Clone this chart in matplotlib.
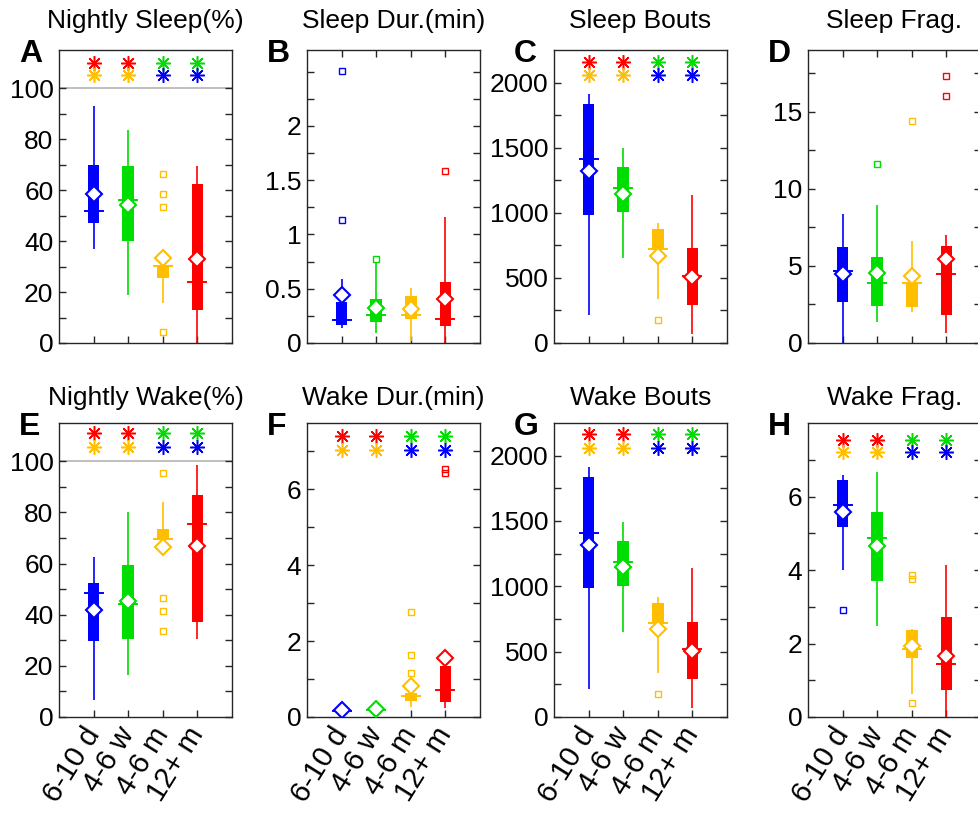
import matplotlib
matplotlib.use('Agg')
import matplotlib.pyplot as plt
from matplotlib.ticker import FixedLocator

plt.rcParams['font.family'] = ['Liberation Sans', 'DejaVu Sans']

groups = ['6-10 d', '4-6 w', '4-6 m', '12+ m']
colors = ['#0000FF', '#00DD00', '#FFBF00', '#FF0000']
sig_top_colors = ['#FF0000', '#FF0000', '#00DD00', '#00DD00']
sig_bot_colors = ['#FFBF00', '#FFBF00', '#0000FF', '#0000FF']

# ---------------- Panel A: Nightly Sleep(%)
A_lo = [36.8, 18.9, 15.6, 0.0]
A_q1 = [47.2, 40.2, 25.7, 12.8]
A_med = [51.8, 56.1, 30.2, 24.1]
A_q3 = [70.0, 69.5, 30.6, 62.3]
A_hi = [93.2, 83.7, 36.0, 69.4]
A_mean = [58.3, 54.2, 33.2, 33.0]
A_out = [[], [], [66.2, 58.4, 53.5, 4.2], []]
A_sig = [110, 105]

# ---------------- Panel B: Sleep Dur.(min)
B_lo = [0.14, 0.09, 0.015, 0.0]
B_q1 = [0.17, 0.19, 0.22, 0.16]
B_med = [0.215, 0.26, 0.26, 0.22]
B_q3 = [0.38, 0.41, 0.43, 0.56]
B_hi = [0.59, 0.75, 0.51, 1.16]
B_mean = [0.445, 0.32, 0.31, 0.41]
B_out = [[2.51, 1.13], [0.776], [], [1.586]]

# ---------------- Panel C: Sleep Bouts
C_lo = [217, 652, 340, 72]
C_q1 = [985, 1003, 721, 294]
C_med = [1412, 1189, 721, 517]
C_q3 = [1834, 1350, 875, 729]
C_hi = [1913, 1496, 921, 1138]
C_mean = [1317, 1146, 670, 506]
C_out = [[], [], [174], []]
C_sig = [2160, 2058]

# ---------------- Panel D: Sleep Frag.
D_lo = [0.0, 1.33, 1.98, 0.65]
D_q1 = [2.65, 2.41, 2.32, 1.83]
D_med = [4.69, 3.92, 3.92, 4.48]
D_q3 = [6.24, 5.60, 3.92, 6.31]
D_hi = [8.35, 8.93, 6.63, 7.0]
D_mean = [4.48, 4.52, 4.35, 5.42]
D_out = [[], [11.58], [14.38], [17.33, 15.99]]

# ---------------- Panel E: Nightly Wake(%)
E_lo = [6.5, 16.4, 64.0, 30.4]
E_q1 = [29.8, 30.6, 69.2, 37.3]
E_med = [48.4, 44.2, 69.7, 75.4]
E_q3 = [52.5, 59.4, 73.7, 86.7]
E_hi = [62.7, 80.2, 84.1, 98.4]
E_mean = [41.9, 45.5, 66.6, 67.0]
E_out = [[], [], [95.6, 46.4, 41.6, 33.8], []]
E_sig = [111, 105.8]

# ---------------- Panel F: Wake Dur.(min)
F_lo = [0.05, 0.05, 0.26, 0.24]
F_q1 = [0.12, 0.13, 0.41, 0.39]
F_med = [0.17, 0.18, 0.56, 0.70]
F_q3 = [0.25, 0.26, 0.63, 1.35]
F_hi = [0.36, 0.38, 0.95, 1.60]
F_mean = [0.19, 0.22, 0.82, 1.55]
F_out = [[], [], [2.78, 1.63, 1.16], [6.53, 6.44]]
F_sig = [7.42, 7.05]

# ---------------- Panel G: Wake Bouts
G_lo = [214, 652, 340, 72]
G_q1 = [987, 1003, 721, 294]
G_med = [1408, 1189, 721, 517]
G_q3 = [1834, 1350, 875, 729]
G_hi = [1913, 1496, 921, 1138]
G_mean = [1314, 1146, 670, 506]
G_out = [[], [], [174], []]
G_sig = [2166, 2059]

# ---------------- Panel H: Wake Frag.
H_lo = [3.99, 2.48, 0.63, 0.0]
H_q1 = [5.17, 3.69, 1.60, 0.74]
H_med = [5.77, 4.87, 1.85, 1.44]
H_q3 = [6.45, 5.58, 2.36, 2.72]
H_hi = [6.59, 6.68, 2.39, 4.14]
H_mean = [5.58, 4.64, 1.94, 1.65]
H_out = [[2.92], [], [3.87, 3.75, 0.38], []]
H_sig = [7.54, 7.2]

W, Hgt = 979, 815
fig = plt.figure(figsize=(W / 100, Hgt / 100), dpi=100)

lefts = [59, 307, 554, 808]
tops = [50, 423]
bottoms = [343, 717]
aw = 173

panels = [
    dict(letter='A', title='Nightly Sleep(%)', d=(A_lo, A_q1, A_med, A_q3, A_hi, A_mean, A_out), sig=A_sig,
         ylim=(0, 115), major=[0, 20, 40, 60, 80, 100], minor=[10, 30, 50, 70, 90],
         ref=100, row=0, col=0),
    dict(letter='B', title='Sleep Dur.(min)', d=(B_lo, B_q1, B_med, B_q3, B_hi, B_mean, B_out), sig=None,
         ylim=(0, 2.7), major=[0, 0.5, 1, 1.5, 2], minor=[0.25, 0.75, 1.25, 1.75, 2.25, 2.5],
         ref=None, row=0, col=1),
    dict(letter='C', title='Sleep Bouts', d=(C_lo, C_q1, C_med, C_q3, C_hi, C_mean, C_out), sig=C_sig,
         ylim=(0, 2250), major=[0, 500, 1000, 1500, 2000], minor=[250, 750, 1250, 1750],
         ref=None, row=0, col=2),
    dict(letter='D', title='Sleep Frag.', d=(D_lo, D_q1, D_med, D_q3, D_hi, D_mean, D_out), sig=None,
         ylim=(0, 19), major=[0, 5, 10, 15], minor=[2.5, 7.5, 12.5, 17.5],
         ref=None, row=0, col=3),
    dict(letter='E', title='Nightly Wake(%)', d=(E_lo, E_q1, E_med, E_q3, E_hi, E_mean, E_out), sig=E_sig,
         ylim=(0, 115), major=[0, 20, 40, 60, 80, 100], minor=[10, 30, 50, 70, 90],
         ref=100, row=1, col=0),
    dict(letter='F', title='Wake Dur.(min)', d=(F_lo, F_q1, F_med, F_q3, F_hi, F_mean, F_out), sig=F_sig,
         ylim=(0, 7.75), major=[0, 2, 4, 6], minor=[1, 3, 5, 7],
         ref=None, row=1, col=1),
    dict(letter='G', title='Wake Bouts', d=(G_lo, G_q1, G_med, G_q3, G_hi, G_mean, G_out), sig=G_sig,
         ylim=(0, 2250), major=[0, 500, 1000, 1500, 2000], minor=[250, 750, 1250, 1750],
         ref=None, row=1, col=2),
    dict(letter='H', title='Wake Frag.', d=(H_lo, H_q1, H_med, H_q3, H_hi, H_mean, H_out), sig=H_sig,
         ylim=(0, 8), major=[0, 2, 4, 6], minor=[1, 3, 5, 7],
         ref=None, row=1, col=3),
]

spine_col = '#262626'
fs = 19

for p in panels:
    r, c = p['row'], p['col']
    l = lefts[c]
    t = tops[r]
    b = bottoms[r]
    ax = fig.add_axes([l / W, 1 - b / Hgt, aw / W, (b - t) / Hgt])
    lo, q1, med, q3, hi, mean, out = p['d']
    xs = list(range(1, len(groups) + 1))
    for i, xi in enumerate(xs):
        col = colors[i]
        ax.plot([xi, xi], [lo[i], hi[i]], color=col, lw=1.2, zorder=2, solid_capstyle='butt')
        ax.bar(xi, q3[i] - q1[i], bottom=q1[i], width=0.34, color=col, zorder=3, linewidth=0)
        ax.plot([xi - 0.26, xi + 0.26], [med[i], med[i]], color=col, lw=1.4, zorder=4)
        if out[i]:
            ax.plot([xi] * len(out[i]), out[i], linestyle='none', marker='s', ms=4.2,
                    mfc='none', mec=col, mew=1.0, zorder=4)
        ax.plot(xi, mean[i], marker='D', ms=8.5, mfc='white', mec=col, mew=1.5, zorder=6, linestyle='none')
    if p['sig'] is not None:
        for i, xi in enumerate(xs):
            ax.plot(xi, p['sig'][0], marker=(8, 2, 0), ms=10.5, mec=sig_top_colors[i], mew=1.1,
                    linestyle='none', zorder=5)
            ax.plot(xi, p['sig'][1], marker=(8, 2, 0), ms=10.5, mec=sig_bot_colors[i], mew=1.1,
                    linestyle='none', zorder=5)
    if p['ref'] is not None:
        ax.axhline(p['ref'], color='#B4B4B4', lw=1.2, zorder=1)
    ax.set_xlim(0, 5)
    ax.set_ylim(*p['ylim'])
    ax.yaxis.set_major_locator(FixedLocator(p['major']))
    ax.yaxis.set_minor_locator(FixedLocator(p['minor']))
    ax.set_yticklabels(['%g' % v for v in p['major']])
    ax.set_xticks(xs)
    top_ticks = p['sig'] is None
    ax.tick_params(axis='both', which='both', direction='in', length=5, width=1.0,
                   color=spine_col, labelsize=fs, right=True, top=top_ticks, pad=4)
    if r == 1:
        ax.set_xticklabels(groups, rotation=58, rotation_mode='anchor', ha='right', va='center',
                           fontsize=21)
        ax.tick_params(axis='x', pad=9)
    else:
        ax.set_xticklabels([])
    for s in ax.spines.values():
        s.set_color(spine_col)
        s.set_linewidth(1.0)
    fig.text((l + aw / 2) / W, 1 - (28 if r == 0 else 405) / Hgt, p['title'],
             ha='center', va='baseline', fontsize=fs)
    fig.text((l - 40) / W, 1 - (t + 12) / Hgt, p['letter'],
             ha='left', va='baseline', fontsize=23, fontweight='bold')

fig.savefig('out.png', dpi=100)
